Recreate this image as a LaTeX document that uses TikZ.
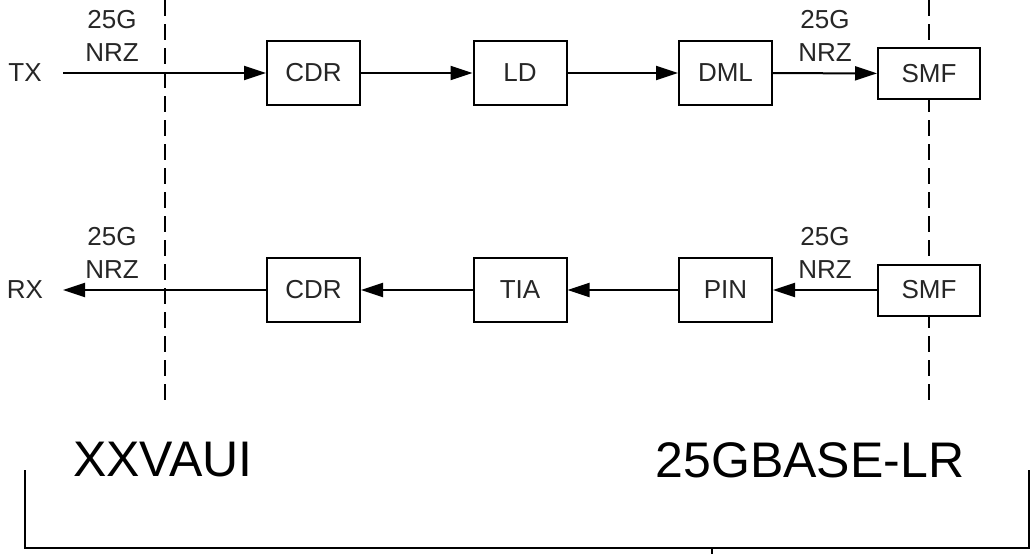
\documentclass[tikz,border=0pt]{standalone}
\usepackage{fontspec}
\setmainfont{Liberation Sans}
\usepackage{tikz}
\usetikzlibrary{arrows.meta,positioning}

\begin{document}
\begin{tikzpicture}[
      x=0.5pt, y=-0.5pt,
      every node/.style={font=\fontsize{13}{16.5}\selectfont, text=black!85},
      blk/.style={draw, fill=white, line width=1pt, inner sep=0pt, minimum width=46.5pt, minimum height=32pt},
      fib/.style={draw, fill=white, line width=1pt, inner sep=0pt, minimum width=51pt, minimum height=25.5pt},
      rate/.style={align=center, inner sep=0pt},
      big/.style={font=\fontsize{25}{30}\selectfont, text=black, inner sep=0pt},
      sig/.style={line width=1pt, -{Triangle[length=11pt,width=7pt]}},
      border/.style={line width=0.9pt, dash pattern=on 8pt off 4pt}
    ]
    \useasboundingbox (0,0) rectangle (1032,554);
    % Interface boundaries
    \coordinate (bl1) at (165,0);
    \coordinate (bl2) at (165,400);
    \coordinate (br1) at (929,0);
    \coordinate (br2) at (929,400);
    \draw[border] (bl1) -- (bl2);
    \draw[border] (br1) -- (br2);
    % Transmit path
    \node (tx) at (25,73) {TX};
    \coordinate (txin) at (63,73);
    \node[blk] (cdrT) at (313.5,73) {CDR};
    \node[blk] (ld) at (520,73) {LD};
    \node[blk] (dml) at (725.5,73) {DML};
    \node[fib] (smfT) at (929,73.5) {SMF};
    \draw[sig] (txin) -- (cdrT);
    \draw[sig] (cdrT) -- (ld);
    \draw[sig] (ld) -- (dml);
    \draw[sig] (dml) -- (smfT);
    \node[rate] (rateT1) at (112,35.5) {25G\\NRZ};
    \node[rate] (rateT2) at (825,35.5) {25G\\NRZ};
    % Receive path
    \node (rx) at (25,290) {RX};
    \coordinate (rxout) at (63,290);
    \node[blk] (cdrR) at (313.5,290) {CDR};
    \node[blk] (tia) at (520,290) {TIA};
    \node[blk] (pin) at (725.5,290) {PIN};
    \node[fib] (smfR) at (929,290) {SMF};
    \draw[sig] (smfR) -- (pin);
    \draw[sig] (pin) -- (tia);
    \draw[sig] (tia) -- (cdrR);
    \draw[sig] (cdrR) -- (rxout);
    \node[rate] (rateR1) at (112,252.5) {25G\\NRZ};
    \node[rate] (rateR2) at (825,252.5) {25G\\NRZ};
    % Sublayer names and bracket
    \node[big] (xxvaui) at (163,460) {XXVAUI};
    \node[big] (lr) at (810,460) {25GBASE-LR};
    \coordinate (bkl) at (25,470);
    \coordinate (bkr) at (1029,470);
    \coordinate (bkm) at (712,548);
    \coordinate (bkt) at (712,554);
    \draw[line width=1pt] (bkl) |- (bkm) -| (bkr);
    \draw[line width=1pt] (bkm) -- (bkt);
\end{tikzpicture}
\end{document}
